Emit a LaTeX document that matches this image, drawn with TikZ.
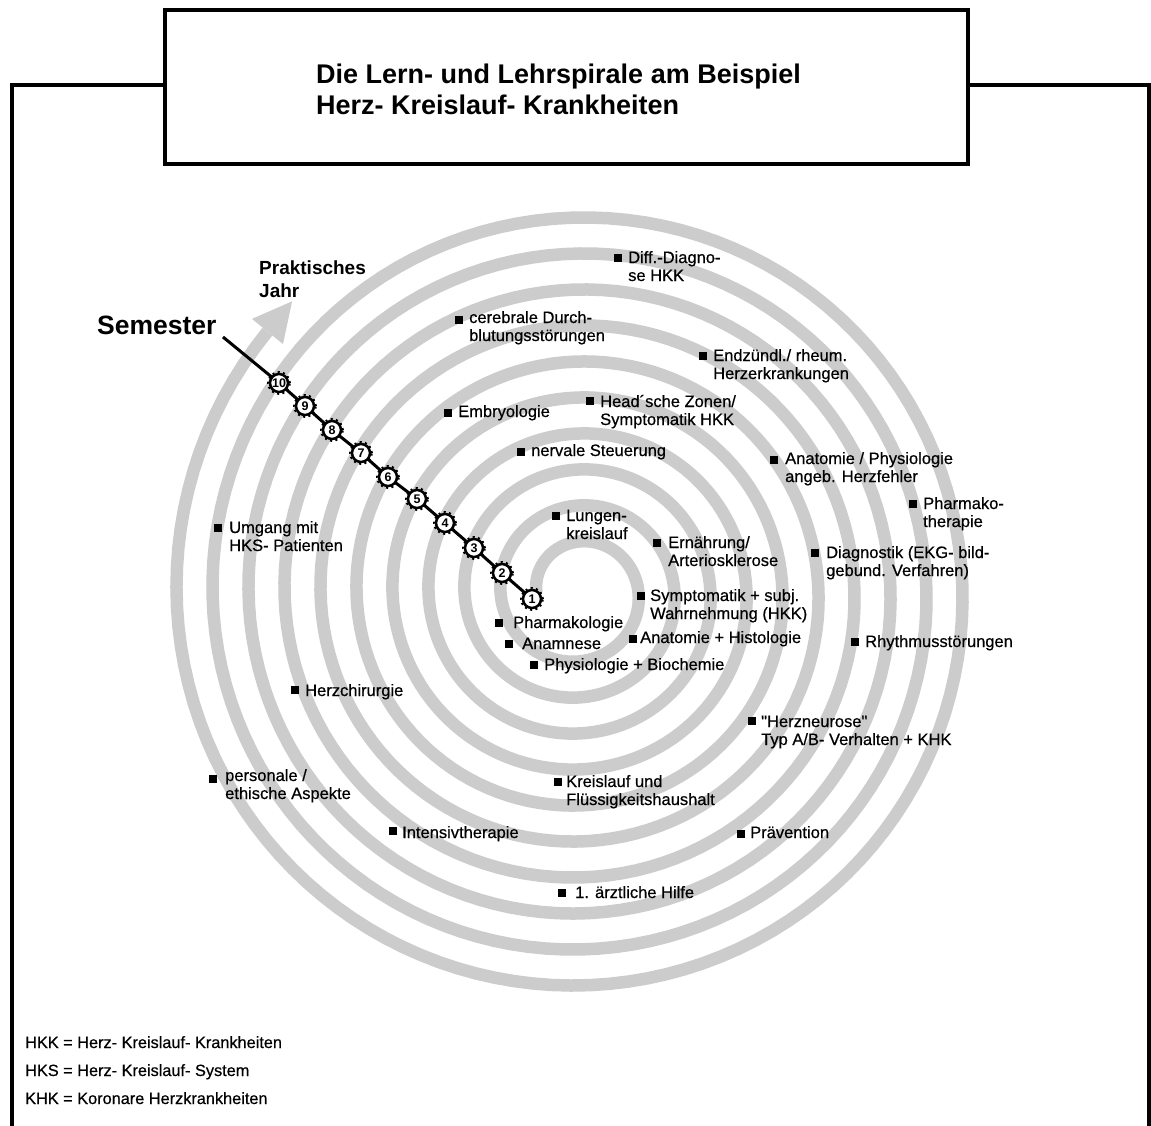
\documentclass[tikz,border=0pt]{standalone}
\usepackage{fontspec}
\setmainfont{Liberation Sans}
\newfontfamily\qfont[FakeBold=0.5]{Liberation Sans}
\newfontfamily\lblfont[FakeBold=0.5,Ligatures=TeX]{Liberation Sans}
\usetikzlibrary{calc}
\definecolor{band}{RGB}{204,204,204}
\tikzset{
  frame/.style={line width=4pt},
  spiralband/.style={band, line width=12.5pt, line join=round},
  semline/.style={line width=3pt},
  semcirc/.style={circle, draw, line width=2.5pt, fill=white, inner sep=0pt, minimum size=18pt, font=\bfseries\fontsize{12.5}{12.5}\selectfont},
  teeth/.style={line width=2.2pt, dash pattern=on 2pt off 3.4pt},
  lbl/.style={anchor=base west, inner sep=0pt, align=left, font=\lblfont\fontsize{16.5}{18}\selectfont},
  legend/.style={anchor=base west, inner sep=0pt, font=\lblfont\fontsize{16.3}{16.3}\selectfont},
}
% single-line label: square centre (x,y), text baseline (x,y)
\newcommand{\lab}[6]{%
  \fill (#2-4,#3-4) rectangle (#2+4,#3+4);
  \node[lbl] (#1) at (#4,#5) {#6};
}
% two-line label: given baseline is that of the first line
\newcommand{\labb}[6]{%
  \fill (#2-4,#3-4) rectangle (#2+4,#3+4);
  \node[lbl] (#1) at (#4,#5+18) {#6};
}
\begin{document}
\begin{tikzpicture}[x=1pt,y=-1pt]
\useasboundingbox[fill=white] (0,0) rectangle (1151,1126);
% spiral
\draw[spiralband] plot[domain=0:3640, samples=1300, variable=\t]
  ({578.5 + (42+\t/10)*cos(180-\t)}, {592.5 - (42+\t/10)*sin(180-\t)});
\coordinate (atip) at (292.1,301.3);
\coordinate (ab1) at (283,344.1);
\coordinate (ab2) at (252,318.9);
\fill[band] (ab1) -- (atip) -- (ab2) -- cycle;
% frame and title
\draw[frame] (12,1126) -- (12,85) -- (165,85);
\draw[frame] (968,85) -- (1149,85) -- (1149,1126);
\node (titlebox) [draw, line width=4pt, fill=white, minimum width=803pt, minimum height=154pt, inner sep=0pt] at (566.5,87) {};
\node (title) [anchor=base west, inner sep=0pt, align=left, font=\bfseries\fontsize{27}{31}\selectfont] at (316,115) {Die Lern- und Lehrspirale am Beispiel\\Herz- Kreislauf- Krankheiten};
% semester
\node (semester) [anchor=base west, inner sep=0pt, font=\bfseries\fontsize{26.5}{26.5}\selectfont] at (97,334) {Semester};
\node (pj) [anchor=base west, inner sep=0pt, align=left, font=\bfseries\fontsize{19}{23}\selectfont] at (259,297) {Praktisches\\Jahr};
\coordinate (semstart) at (223,337);
\coordinate (c10) at (279,383);
\coordinate (c9) at (305,406);
\coordinate (c8) at (332,430);
\coordinate (c7) at (361,453);
\coordinate (c6) at (388,477);
\coordinate (c5) at (417,499);
\coordinate (c4) at (445,523);
\coordinate (c3) at (474,548);
\coordinate (c2) at (502,573);
\coordinate (c1) at (532,599);
\draw[semline] (semstart) -- (c10) -- (c9) -- (c8) -- (c7) -- (c6) -- (c5) -- (c4) -- (c3) -- (c2) -- (c1);
\foreach \n in {1,...,10} {\draw[teeth] (c\n) circle[radius=10.8pt];}
\node[semcirc] (s10) at (c10) {10};
\node[semcirc] (s9) at (c9) {9};
\node[semcirc] (s8) at (c8) {8};
\node[semcirc] (s7) at (c7) {7};
\node[semcirc] (s6) at (c6) {6};
\node[semcirc] (s5) at (c5) {5};
\node[semcirc] (s4) at (c4) {4};
\node[semcirc] (s3) at (c3) {3};
\node[semcirc] (s2) at (c2) {2};
\node[semcirc] (s1) at (c1) {1};
% labels
\labb{diff}{617.5}{258}{628}{263}{Diff.-Diagno-\\se HKK}
\labb{cereb}{459}{319.5}{469}{323}{cerebrale Durch-\\blutungsstörungen}
\labb{endz}{702.5}{356}{713}{361}{Endzündl./ rheum.\\Herzerkrankungen}
\labb{head}{590}{401}{600}{407}{Head´sche Zonen/\\Symptomatik HKK}
\lab{embr}{447.5}{412.5}{458}{417}{Embryologie}
\lab{nerv}{521}{452}{531}{456}{nervale Steuerung}
\labb{anat}{773.5}{459.5}{785}{464}{Anatomie / Physiologie\\angeb. Herzfehler}
\labb{pharmth}{912.5}{504}{923}{509}{Pharmako-\\therapie}
\labb{umg}{217.5}{527.5}{229}{533}{Umgang mit\\HKS- Patienten}
\labb{lung}{556}{516}{566}{521}{Lungen-\\kreislauf}
\labb{ern}{656.5}{542.5}{668}{548}{Ernährung/\\Arteriosklerose}
\labb{diag}{814.5}{552.5}{826}{558}{Diagnostik (EKG- bild-\\gebund. Verfahren)}
\labb{symp}{640.5}{596}{650}{601}{Symptomatik + subj.\\Wahrnehmung (HKK)}
\lab{pharm}{499}{622.5}{513}{628}{Pharmakologie}
\lab{anam}{509}{644}{522}{649}{Anamnese}
\lab{anahist}{632.5}{638.5}{640}{643}{Anatomie + Histologie}
\lab{rhyth}{854.5}{641.5}{865}{647}{Rhythmusstörungen}
\lab{phys}{534}{665}{544}{670}{Physiologie + Biochemie}
\lab{chir}{294.5}{690}{305}{696}{Herzchirurgie}
\labb{neur}{751.5}{721}{761}{727}{{\qfont"}Herzneurose{\qfont"}\\Typ A/B- Verhalten + KHK}
\labb{pers}{213}{779}{225}{781}{personale /\\ethische Aspekte}
\labb{kreis}{558}{782}{566}{787}{Kreislauf und\\Flüssigkeitshaushalt}
\lab{intens}{393}{831}{402}{838}{Intensivtherapie}
\lab{praev}{741}{834}{750}{838}{Prävention}
\lab{hilfe}{562}{893}{575}{898}{1. ärztliche Hilfe}
% legend
\node[legend] (hkk) at (25,1048) {HKK = Herz- Kreislauf- Krankheiten};
\node[legend] (hks) at (25,1076) {HKS = Herz- Kreislauf- System};
\node[legend] (khk) at (25,1104) {KHK = Koronare Herzkrankheiten};
\end{tikzpicture}
\end{document}
